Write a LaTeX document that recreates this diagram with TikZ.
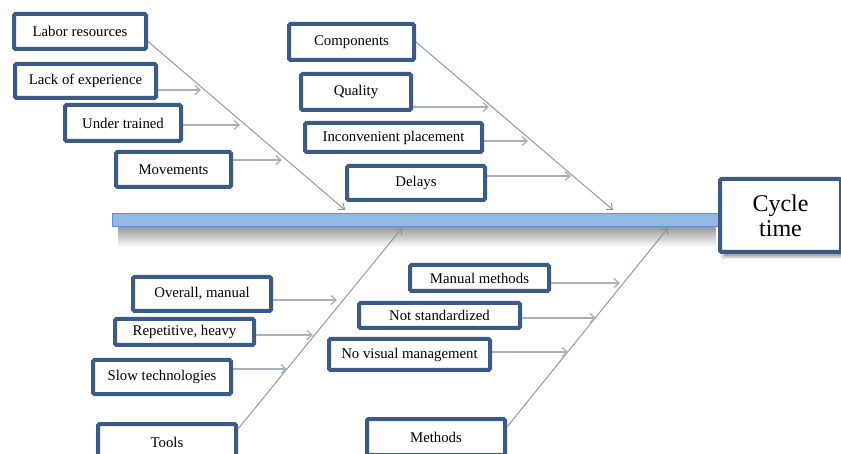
\documentclass[tikz,border=0pt]{standalone}
\usepackage{fontspec}
\setmainfont{Liberation Serif}
\usetikzlibrary{arrows.meta,shadows.blur}
\definecolor{boxblue}{RGB}{58,90,136}
\definecolor{spineblue}{RGB}{146,184,228}
\definecolor{spineedge}{RGB}{100,145,202}
\definecolor{bonegray}{RGB}{138,146,160}
\definecolor{twiggray}{RGB}{168,176,190}

\begin{document}
\begin{tikzpicture}[x=1pt,y=-1pt,
  cause/.style={draw=boxblue,line width=4pt,fill=white,rounded corners=1.5pt,inner sep=0pt,font=\fontsize{14.8}{17}\selectfont},
  bone/.style={draw=bonegray,line width=0.9pt,-{Straight Barb[length=5pt,width=8pt]}},
  twig/.style={draw=twiggray,line width=1.3pt,-{Straight Barb[length=5pt,width=9pt]}}]
  \useasboundingbox (0,0) rectangle (841,454);
  \fill[white] (0,0) rectangle (841,454);
  \shade[top color=black!42,bottom color=white] (118,226) rectangle (716,247);
  \draw[spineedge,fill=spineblue,line width=0.8pt] (112,213) rectangle (720,226);
  \node[cause,minimum width=132pt,minimum height=35pt] (labor) at (80,31.5) {Labor resources};
  \node[cause,minimum width=141pt,minimum height=34pt] (lack) at (85.5,81) {Lack of experience};
  \node[cause,minimum width=116pt,minimum height=36pt] (under) at (123,123) {Under trained};
  \node[cause,minimum width=115pt,minimum height=35pt] (move) at (173.5,169.5) {Movements};
  \node[cause,minimum width=125pt,minimum height=36pt] (comp) at (351.5,42) {Components};
  \node[cause,minimum width=110pt,minimum height=36pt] (qual) at (356,92) {Quality};
  \node[cause,minimum width=177pt,minimum height=29pt] (incon) at (393.5,137.5) {Inconvenient placement};
  \node[cause,minimum width=138pt,minimum height=34pt] (delay) at (416,183) {Delays};
  \node[cause,minimum width=138pt,minimum height=34pt] (overall) at (202,294) {Overall, manual};
  \node[cause,minimum width=139pt,minimum height=26pt] (repet) at (184.5,332) {Repetitive, heavy};
  \node[cause,minimum width=138pt,minimum height=34pt] (slow) at (162,377) {Slow technologies};
  \node[cause,minimum width=138pt,minimum height=36pt] (tools) at (167,442) {Tools};
  \node[cause,minimum width=139pt,minimum height=26pt] (manual) at (479.5,278) {Manual methods};
  \node[cause,minimum width=161pt,minimum height=25pt] (notstd) at (439.5,315.5) {Not standardized};
  \node[cause,minimum width=161pt,minimum height=31pt] (novis) at (409.5,354.5) {No visual management};
  \node[cause,minimum width=138pt,minimum height=36pt] (methods) at (436,437) {Methods};
  \node[cause,minimum width=121pt,minimum height=73pt,align=center,font=\fontsize{24}{25}\selectfont,
    blur shadow={shadow xshift=3pt,shadow yshift=-5pt,shadow opacity=35}] (effect) at (780.5,215.5) {Cycle\\time};
  \coordinate (t1) at (345,210);
  \coordinate (t2) at (613,210);
  \coordinate (t3) at (402,228);
  \coordinate (t4) at (668,228);
  \coordinate (a1) at (201,90);
  \coordinate (a2) at (240,125);
  \coordinate (a3) at (282,160);
  \coordinate (b1) at (489,107);
  \coordinate (b2) at (528,141);
  \coordinate (b3) at (571,176);
  \coordinate (c1) at (337,300);
  \coordinate (c2) at (313,335);
  \coordinate (c3) at (287,369);
  \coordinate (d1) at (620,283);
  \coordinate (d2) at (596,318);
  \coordinate (d3) at (568,352);
  \draw[bone] ([yshift=-10pt]labor.east) -- (t1);
  \draw[bone] (comp.east) -- (t2);
  \draw[bone] ([yshift=13pt]tools.east) -- (t3);
  \draw[bone] ([yshift=10pt]methods.east) -- (t4);
  \draw[twig] (lack.east |- a1) -- (a1);
  \draw[twig] (under.east |- a2) -- (a2);
  \draw[twig] (move.east |- a3) -- (a3);
  \draw[twig] (qual.east |- b1) -- (b1);
  \draw[twig] (incon.east |- b2) -- (b2);
  \draw[twig] (delay.east |- b3) -- (b3);
  \draw[twig] (overall.east |- c1) -- (c1);
  \draw[twig] (repet.east |- c2) -- (c2);
  \draw[twig] (slow.east |- c3) -- (c3);
  \draw[twig] (manual.east |- d1) -- (d1);
  \draw[twig] (notstd.east |- d2) -- (d2);
  \draw[twig] (novis.east |- d3) -- (d3);
\end{tikzpicture}
\end{document}
